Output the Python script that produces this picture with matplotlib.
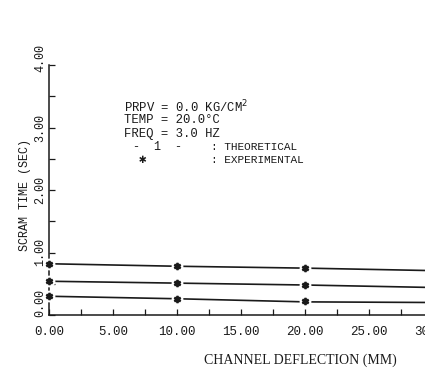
import matplotlib
matplotlib.use("Agg")
import matplotlib.pyplot as plt
from matplotlib.ticker import MultipleLocator
from matplotlib.transforms import ScaledTranslation

# --------- DATA ---------
DEFLECTION_THEO = [0.0, 10.0, 20.0, 30.0]
THEO_HIGH = [0.82, 0.78, 0.75, 0.71]
THEO_MID = [0.54, 0.51, 0.48, 0.44]
THEO_LOW = [0.30, 0.26, 0.21, 0.20]

DEFLECTION_EXP = [0.0, 10.0, 20.0]
EXP_HIGH = [0.82, 0.78, 0.75]
EXP_MID = [0.54, 0.51, 0.48]
EXP_LOW = [0.30, 0.26, 0.22]

X_TICKS = [0, 5, 10, 15, 20, 25, 30]
Y_TICKS = [0, 1, 2, 3, 4]

INFO_LINES = [
    "PRPV = 0.0 KG/CM$^2$",
    "TEMP = 20.0\u00b0C",
    "FREQ = 3.0 HZ",
]
KEY_SYMBOLS = ["-  1  -", "\u2731"]
KEY_NAMES = [": THEORETICAL", ": EXPERIMENTAL"]

INK = "#1a1a1a"
MONO = ["Liberation Mono", "DejaVu Sans Mono", "DejaVu Sans"]

# --------- FIGURE ---------
fig = plt.figure(figsize=(4.25, 3.73), dpi=100)
ax = fig.add_axes([49 / 425, 58 / 373, 384 / 425, 250 / 373])

for ys in (THEO_HIGH, THEO_MID, THEO_LOW):
    ax.plot(DEFLECTION_THEO, ys, color=INK, lw=1.2, clip_on=False, zorder=2)

for ys in (EXP_HIGH, EXP_MID, EXP_LOW):
    ax.plot(DEFLECTION_EXP, ys, ls="none", marker="o", ms=7.5, mfc="white",
            mec="white", clip_on=False, zorder=3)
    ax.plot(DEFLECTION_EXP, ys, ls="none", marker="$\u2731$", ms=4.5,
            color=INK, clip_on=False, zorder=4)

ax.set_xlim(0, 30)
ax.set_ylim(0, 4)
ax.spines["top"].set_visible(False)
ax.spines["right"].set_visible(False)
for s in ("left", "bottom"):
    ax.spines[s].set_color(INK)
    ax.spines[s].set_linewidth(1.1)

ax.set_xticks(X_TICKS)
ax.set_xticklabels(["%.2f" % v for v in X_TICKS], family=MONO, fontsize=9)
ax.xaxis.set_minor_locator(MultipleLocator(2.5))
ax.set_yticks(Y_TICKS)
ax.set_yticklabels(["%.2f" % v for v in Y_TICKS], family=MONO, fontsize=8.5,
                   rotation=90, va="center")
ax.yaxis.set_minor_locator(MultipleLocator(0.5))
ax.tick_params(which="both", direction="in", length=4, width=0.9, color=INK,
               labelcolor=INK)
ax.tick_params(axis="x", pad=8)
ax.tick_params(axis="y", pad=2)

# scanned original: the lowest and highest y labels sit a bit higher
ylabels = ax.get_yticklabels()
for lab, dy in ((ylabels[0], 12), (ylabels[-1], 7)):
    lab.set_transform(lab.get_transform() + ScaledTranslation(0, dy / 100, fig.dpi_scale_trans))

ax.set_ylabel("SCRAM TIME (SEC)", family=MONO, fontsize=8.5, color=INK)
ax.yaxis.set_label_coords(-18 / 384, 0.48)
ax.set_xlabel("CHANNEL DEFLECTION (MM)", family="Liberation Serif", fontsize=10,
              color=INK)
ax.xaxis.set_label_coords((300 - 49) / 384, -39 / 250)

for i, line in enumerate(INFO_LINES):
    fig.text(124 / 425, 1 - (107 + 13.3 * i) / 373, line, family=MONO,
             fontsize=8.8, color=INK, va="center", ha="left")
for i, (sym, name) in enumerate(zip(KEY_SYMBOLS, KEY_NAMES)):
    y = 1 - (107 + 13.3 * (i + 3)) / 373
    fig.text((133 if i == 0 else 139) / 425, y, sym, family=MONO,
             fontsize=8.5 if i == 0 else 9, color=INK, va="center", ha="left")
    fig.text(211 / 425, y, name, family=MONO, fontsize=8, color=INK,
             va="center", ha="left")

plt.savefig("out.png", dpi=100)
plt.close()
